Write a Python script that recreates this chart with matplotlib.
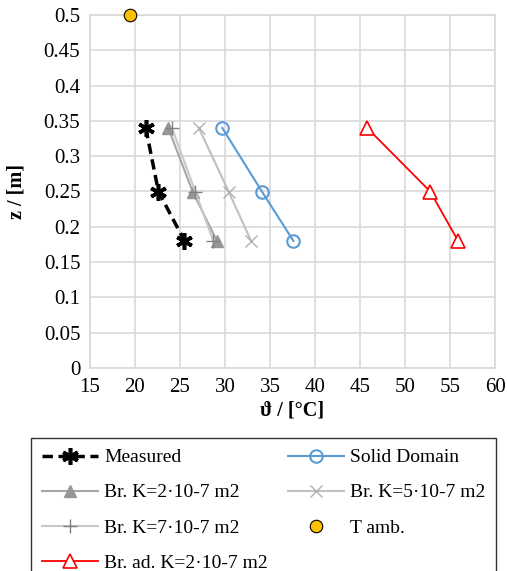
import numpy as np
import matplotlib.pyplot as plt
from matplotlib.ticker import MultipleLocator

plt.rcParams['font.family'] = ['Liberation Serif', 'DejaVu Serif']

z = [0.34, 0.25, 0.18]
t_measured = [21.2, 22.6, 25.5]
t_solid = [29.7, 34.1, 37.6]
t_k2 = [23.7, 26.4, 29.1]
t_k5 = [27.1, 30.4, 32.9]
t_k7 = [24.1, 26.7, 28.7]
t_ad_k2 = [45.8, 52.8, 55.9]
t_amb = [19.5]
z_amb = [0.5]

fig = plt.figure(figsize=(5.07, 5.71), dpi=100)
ax = fig.add_axes([90/507, 1-368/571, 405/507, 353/571])

h_meas, = ax.plot(t_measured, z, color='black', ls=(0, (3, 1.6)), lw=2.5, marker=(6, 2, 0),
                  ms=12, mew=2.6, label='Measured')
h_solid, = ax.plot(t_solid, z, color='#5b9bd5', lw=1.5, marker='o', ms=9, mfc='none', mew=1.5,
                   label='Solid Domain')
h_k2, = ax.plot(t_k2, z, color='#a5a5a5', lw=1.5, marker='^', ms=8, mfc='#969696', mec='#969696',
                label='Br. K=2·10-7 m2')
h_k5, = ax.plot(t_k5, z, color='#c0c0c0', lw=1.5, marker='x', ms=9, mew=1.0, mec='#b0b0b0',
                label='Br. K=5·10-7 m2')
h_k7, = ax.plot(t_k7, z, color='#c8c8c8', lw=1.5, marker='+', ms=10, mew=1.0, mec='#808080',
                label='Br. K=7·10-7 m2')
h_amb, = ax.plot(t_amb, z_amb, ls='none', marker='o', ms=9, mfc='#ffc000', mec='black', mew=0.8,
                 label='T amb.', clip_on=False, zorder=5)
h_ad, = ax.plot(t_ad_k2, z, color='#ff0000', lw=1.3, marker='^', ms=10, mfc='white', mec='#ff0000',
                mew=1.2, label='Br. ad. K=2·10-7 m2')

ax.set_xlim(15, 60)
ax.set_ylim(0, 0.5)
ax.xaxis.set_major_locator(MultipleLocator(5))
ax.yaxis.set_major_locator(MultipleLocator(0.05))
ax.set_yticklabels([f'{v:g}' for v in ax.get_yticks()])
ax.grid(True, color='#d9d9d9', lw=1.2)
ax.set_axisbelow(True)
for s in ax.spines.values():
    s.set_color('#d9d9d9')
    s.set_linewidth(1.2)
ax.tick_params(length=0, labelsize=15, pad=7)
ax.set_xlabel('ϑ / [°C]', fontsize=14.5, fontweight='bold', labelpad=3)
ax.set_ylabel('z / [m]', fontsize=14.5, fontweight='bold', labelpad=12)

handles = [h_meas, h_k2, h_k7, h_ad, h_solid, h_k5, h_amb]
leg = fig.legend(handles=handles, labels=[h.get_label() for h in handles],
                 loc='upper left', bbox_to_anchor=(31/507, 1-438/571), ncol=2,
                 fontsize=14, frameon=True, fancybox=False, edgecolor='black',
                 handlelength=2.9, columnspacing=1.05, labelspacing=0.9,
                 borderpad=0.55, handletextpad=0.3, borderaxespad=0)
leg.get_frame().set_linewidth(1.0)

fig.savefig('out.png', dpi=100)
